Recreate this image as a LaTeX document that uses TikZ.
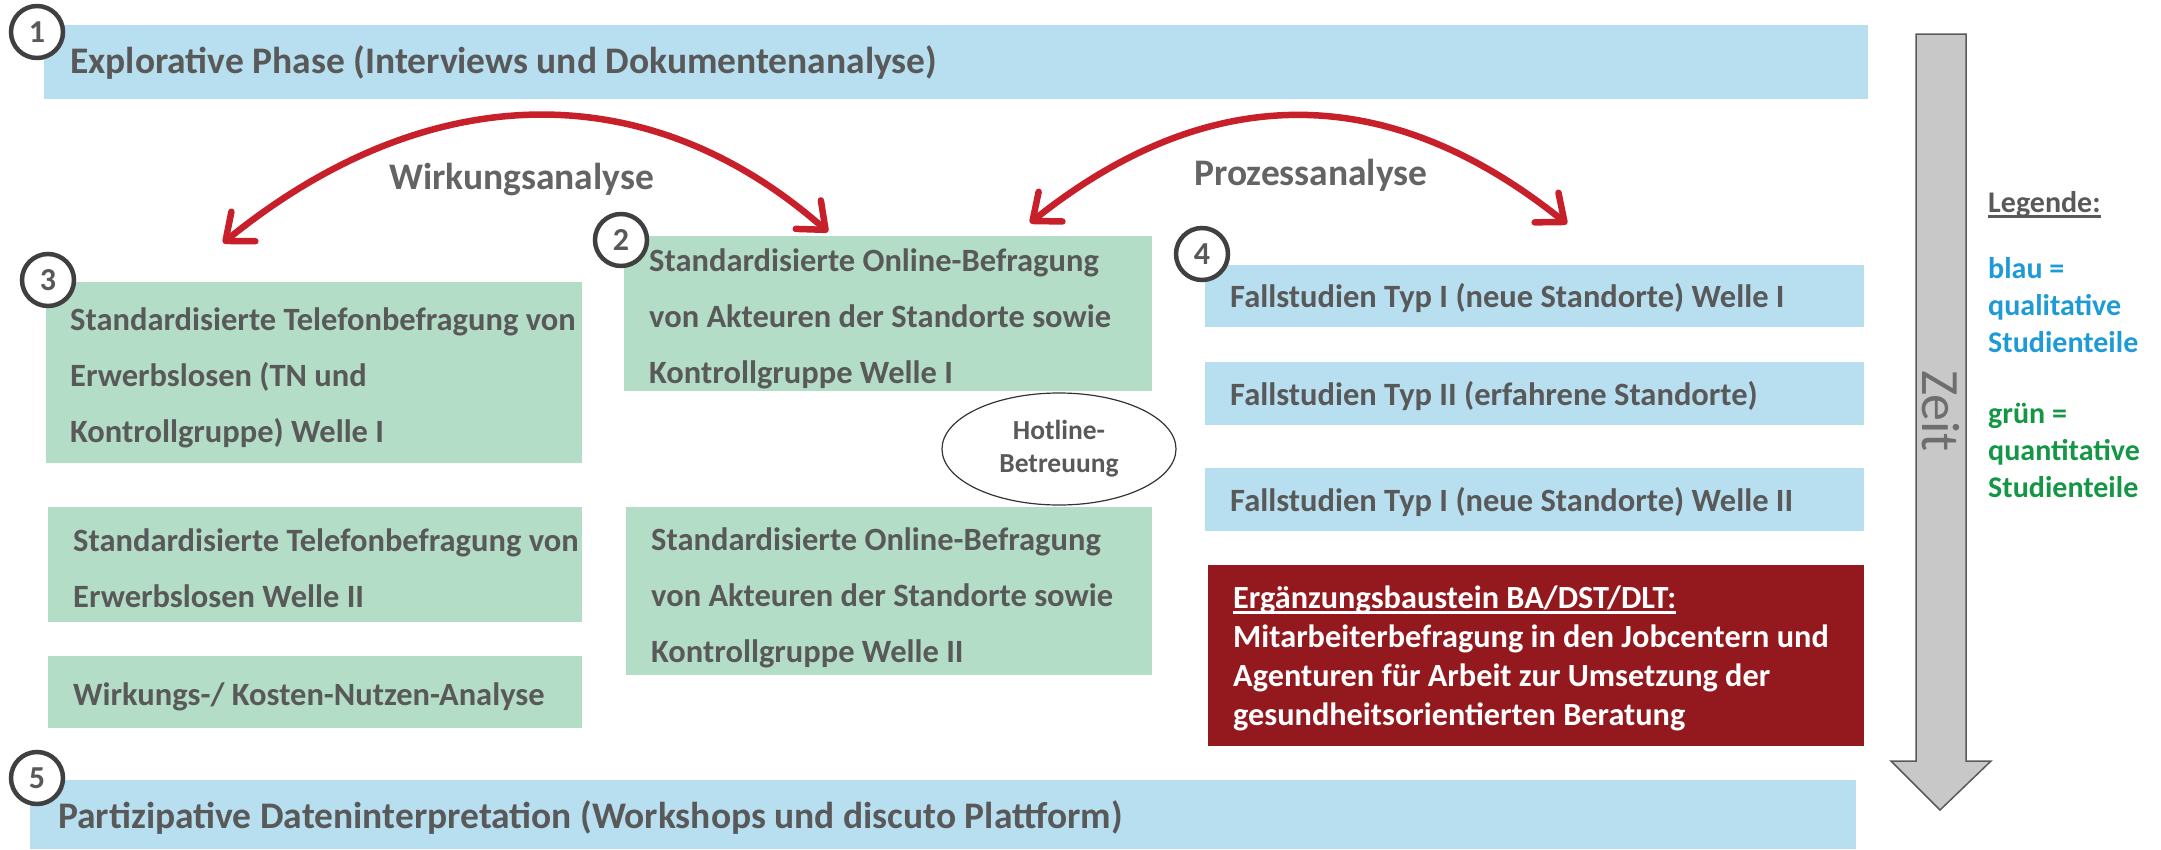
\documentclass[tikz,border=0pt]{standalone}
\usepackage{fontspec}
\setmainfont{Carlito}
\usetikzlibrary{arrows.meta,shapes.geometric}
\definecolor{boxblue}{RGB}{183,223,240}
\definecolor{boxgreen}{RGB}{179,221,199}
\definecolor{boxred}{RGB}{148,25,30}
\definecolor{arcred}{RGB}{200,32,42}
\definecolor{txtgray}{RGB}{89,89,89}
\definecolor{lblgray}{RGB}{100,100,100}
\definecolor{ringgray}{RGB}{64,64,64}
\definecolor{legblue}{RGB}{30,155,215}
\definecolor{leggreen}{RGB}{20,150,70}
\definecolor{zeitfill}{RGB}{200,200,200}
\definecolor{zeitline}{RGB}{90,90,90}
\definecolor{zeittxt}{RGB}{110,110,110}
\newcommand\ulbox[1]{\setbox0\hbox{#1}\rlap{\vrule height -3pt depth 6pt width \wd0}\box0}
\begin{document}
\begin{tikzpicture}[x=1pt,y=-1pt,
  bx/.style={draw=none, inner sep=0pt, anchor=north west},
  bluebox/.style={bx, fill=boxblue},
  greenbox/.style={bx, fill=boxgreen},
  redbox/.style={bx, fill=boxred},
  txt/.style={inner sep=0pt, anchor=base west, align=left, text=txtgray, font=\fontsize{32.5}{56}\selectfont\bfseries},
  bigtxt/.style={txt, font=\fontsize{37.5}{40}\selectfont\bfseries},
  redtxt/.style={txt, text=white, font=\fontsize{32.3}{39}\selectfont\bfseries},
  num/.style={circle, draw=ringgray, line width=4.5pt, fill=white, minimum size=52pt, inner sep=0pt, text=txtgray, font=\fontsize{32}{32}\selectfont\bfseries},
  arc/.style={draw=arcred, line width=6.5pt, {Straight Barb[length=23pt,width=38pt,round]}-{Straight Barb[length=23pt,width=38pt,round]}},
  lbl/.style={inner sep=0pt, anchor=base west, text=lblgray, font=\fontsize{37.5}{37.5}\selectfont\bfseries},
  lgd/.style={inner sep=0pt, anchor=base west, align=left, font=\fontsize{30}{37}\selectfont\bfseries},
]
\useasboundingbox (0,0) rectangle (2161,849);

% phase 1
\node[bluebox, minimum width=1824pt, minimum height=74pt] (p1) at (44,25) {};
\node[bigtxt] (p1t) at (70,73) {Explorative Phase (Interviews und Dokumentenanalyse)};

% column 3 (green)
\node[greenbox, minimum width=536pt, minimum height=181pt] (b3a) at (46,282) {};
\node[txt] (t3a) at (70,442) {Standardisierte Telefonbefragung von\\Erwerbslosen (TN und\\Kontrollgruppe) Welle I};
\node[greenbox, minimum width=534pt, minimum height=115pt] (b3b) at (48,507) {};
\node[txt] (t3b) at (73,607) {Standardisierte Telefonbefragung von\\Erwerbslosen Welle II};
\node[greenbox, minimum width=534pt, minimum height=72pt] (b3c) at (48,656) {};
\node[txt] (t3c) at (73,705) {Wirkungs-/ Kosten-Nutzen-Analyse};

% column 2 (green)
\node[greenbox, minimum width=528pt, minimum height=155pt] (b2a) at (624,236) {};
\node[txt] (t2a) at (649,383) {Standardisierte Online-Befragung\\von Akteuren der Standorte sowie\\Kontrollgruppe Welle I};
\node[greenbox, minimum width=526pt, minimum height=168pt] (b2b) at (626,507) {};
\node[txt] (t2b) at (651,662) {Standardisierte Online-Befragung\\von Akteuren der Standorte sowie\\Kontrollgruppe Welle II};

% hotline
\node[ellipse, draw=black!80, line width=1.2pt, minimum width=234pt, minimum height=112pt, inner sep=0pt, align=center, text=txtgray, font=\fontsize{27.5}{33}\selectfont\bfseries] (hot) at (1059,449) {Hotline-\\Betreuung};

% column 4 (blue)
\node[bluebox, minimum width=659pt, minimum height=62pt] (b4a) at (1205,265) {};
\node[txt] (t4a) at (1230,307) {Fallstudien Typ I (neue Standorte) Welle I};
\node[bluebox, minimum width=659pt, minimum height=63pt] (b4b) at (1205,362) {};
\node[txt] (t4b) at (1230,405) {Fallstudien Typ II (erfahrene Standorte)};
\node[bluebox, minimum width=659pt, minimum height=63pt] (b4c) at (1205,468) {};
\node[txt] (t4c) at (1230,511) {Fallstudien Typ I (neue Standorte) Welle II};

% red box
\node[redbox, minimum width=656pt, minimum height=181pt] (br) at (1208,565) {};
\node[redtxt] (tr) at (1233,725) {\ulbox{Ergänzungsbaustein BA/DST/DLT:}\\Mitarbeiterbefragung in den Jobcentern und\\Agenturen für Arbeit zur Umsetzung der\\gesundheitsorientierten Beratung};

% phase 5
\node[bluebox, minimum width=1826pt, minimum height=69pt] (p5) at (30,780) {};
\node[bigtxt] (p5t) at (58,828) {Partizipative Dateninterpretation (Workshops und discuto Plattform)};

% arcs
\coordinate (wa) at (223,243);
\coordinate (wb) at (828,232);
\draw[arc] (wa) .. controls (430,75) and (650,75) .. (wb);
\coordinate (pa) at (1030,223);
\coordinate (pb) at (1567,224);
\draw[arc] (pa) .. controls (1209,80) and (1388,80) .. (pb);
\node[lbl] (wl) at (389,189) {Wirkungsanalyse};
\node[lbl] (pl) at (1194,185) {Prozessanalyse};

% numbers
\node[num] (n1) at (37,32) {1};
\node[num] (n2) at (621,240) {2};
\node[num] (n3) at (48,280) {3};
\node[num] (n4) at (1202,254) {4};
\node[num] (n5) at (37,778) {5};

% time arrow
\filldraw[fill=zeitfill, draw=zeitline, line width=1.5pt] (1916,34) -- (1966,34) -- (1966,761) -- (1991,761) -- (1940,810) -- (1891,761) -- (1916,761) -- cycle;
\node[rotate=-90, text=zeittxt, font=\fontsize{54}{54}\selectfont, inner sep=0pt] (zeit) at (1941,411) {Zeit};

% legend
\node[lgd, text=txtgray] (leg) at (1988,212) {\ulbox{Legende:}};
\node[lgd, text=legblue] (lblue) at (1988,352) {blau =\\qualitative\\Studienteile};
\node[lgd, text=leggreen] (lgreen) at (1988,497) {grün =\\quantitative\\Studienteile};
\end{tikzpicture}
\end{document}
